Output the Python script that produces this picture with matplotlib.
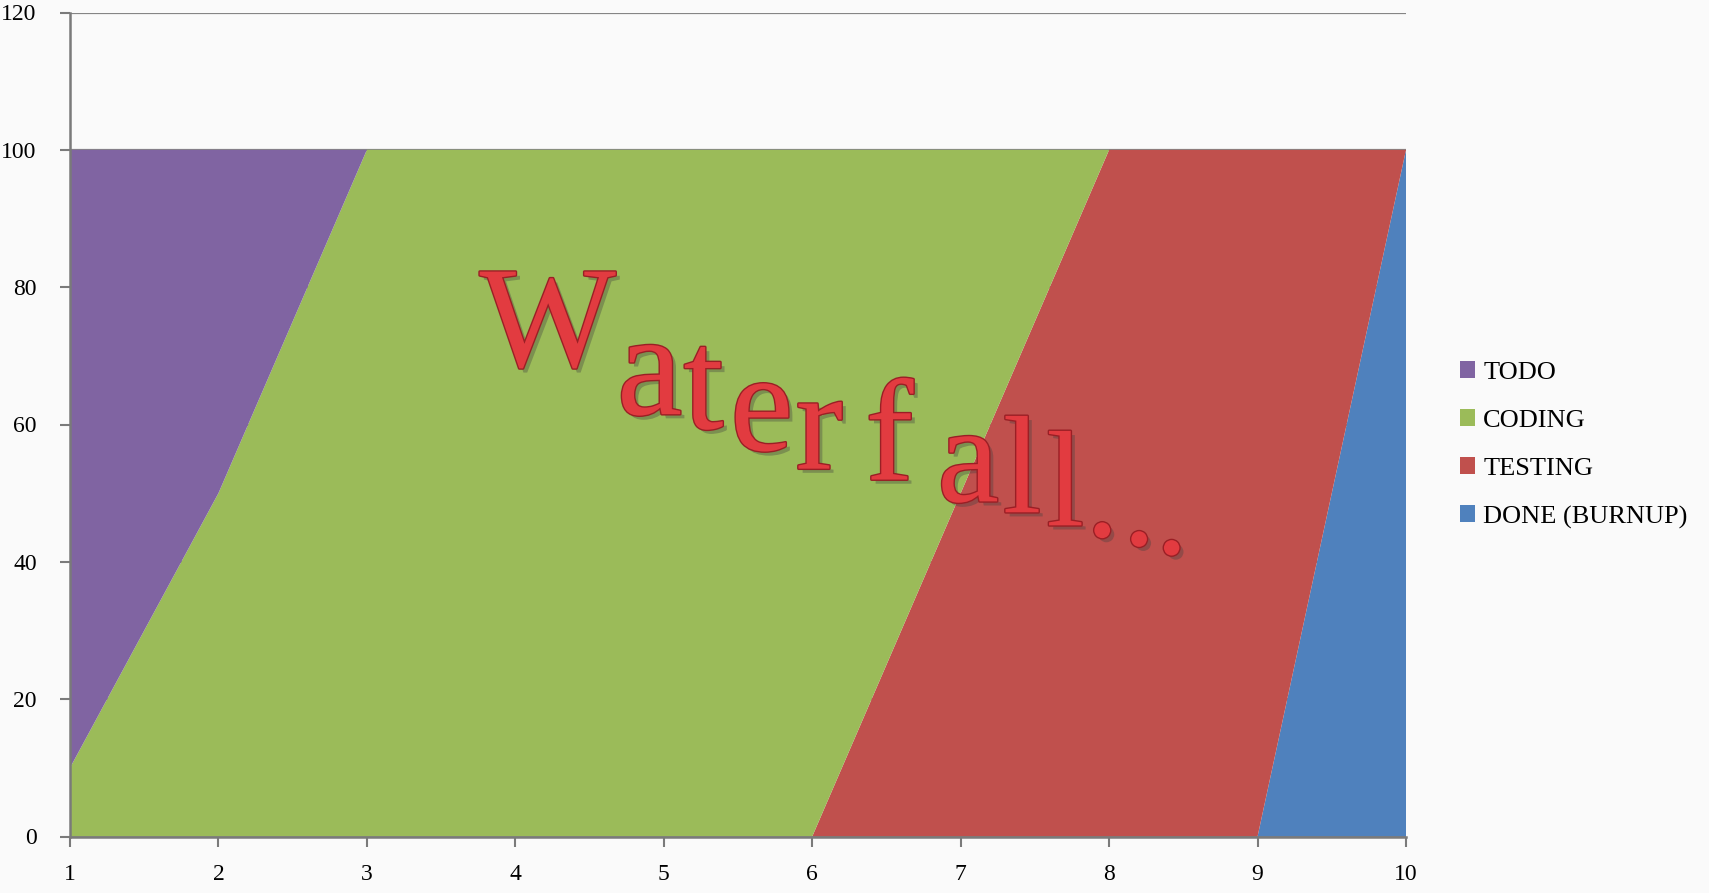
import matplotlib.pyplot as plt
import matplotlib.patheffects as pe
from matplotlib.patches import Patch

# data
days = [1, 2, 3, 4, 5, 6, 7, 8, 9, 10]
todo = [90, 50, 0, 0, 0, 0, 0, 0, 0, 0]
coding = [10, 50, 100, 100, 100, 100, 50, 0, 0, 0]
testing = [0, 0, 0, 0, 0, 0, 50, 100, 100, 0]
done = [0, 0, 0, 0, 0, 0, 0, 0, 0, 100]
labels = ['TODO', 'CODING', 'TESTING', 'DONE (BURNUP)']
colors = ['#8064A2', '#9BBB59', '#C0504D', '#4F81BD']

plt.rcParams['font.family'] = ['Liberation Serif', 'DejaVu Serif']

fig = plt.figure(figsize=(17.09, 8.93), dpi=100, facecolor='#fafafa')
ax = fig.add_axes([70 / 1709, 1 - 836.5 / 893, (1406 - 70) / 1709, (836.5 - 12.5) / 893])
ax.set_facecolor('#fafafa')

# stacked from the bottom: done, testing, coding, todo
ax.stackplot(days, done, testing, coding, todo,
             colors=colors[::-1], linewidth=0, zorder=2)

ax.set_xlim(1, 10)
ax.set_ylim(0, 120)
ax.set_xticks(days)
ax.set_yticks(range(0, 121, 20))
ax.set_axisbelow(True)
ax.yaxis.grid(True, color='#858585', linewidth=1.6)
for s in ['top', 'right']:
    ax.spines[s].set_visible(False)
for s in ['left', 'bottom']:
    ax.spines[s].set_color('#7a7a7a')
    ax.spines[s].set_linewidth(1.8)
    ax.spines[s].set_zorder(3)
ax.tick_params(axis='y', length=7, width=1.5, color='#7a7a7a', pad=17, labelsize=17)
ax.tick_params(axis='x', length=7, width=1.5, color='#7a7a7a', pad=13, labelsize=17)

handles = [Patch(facecolor=c, edgecolor='none') for c in colors]
fig.legend(handles, labels, loc='center left', bbox_to_anchor=(1449 / 1709, 1 - 445 / 893),
           frameon=False, fontsize=19, handlelength=0.6, handleheight=0.6,
           handletextpad=0.3, labelspacing=0.96, borderaxespad=0)

# "Waterfall..." word art, letter by letter along a sloping baseline
sc = 1709 / 1568
chars = list('Waterfall...')
lefts = [440, 566, 627, 670, 730, 794, 860, 920, 960, 996, 1030, 1060]
bases = [336, 380, 393, 413, 430, 440, 460, 470, 482, 492, 500, 508]
sizes = [104, 106, 104, 102, 102, 104, 100, 100, 98, 96, 95, 94]
for ch, x, y, size in zip(chars, lefts, bases, sizes):
    fig.text(x * sc / 1709, 1 - y * sc / 893, ch, fontsize=size, color='#e23b40',
             ha='left', va='baseline', zorder=10,
             path_effects=[pe.SimplePatchShadow(offset=(3, -3), shadow_rgbFace='#404040', alpha=0.35),
                           pe.withStroke(linewidth=2, foreground='#9a1f25')])

plt.savefig('out.png', dpi=100, facecolor=fig.get_facecolor())
